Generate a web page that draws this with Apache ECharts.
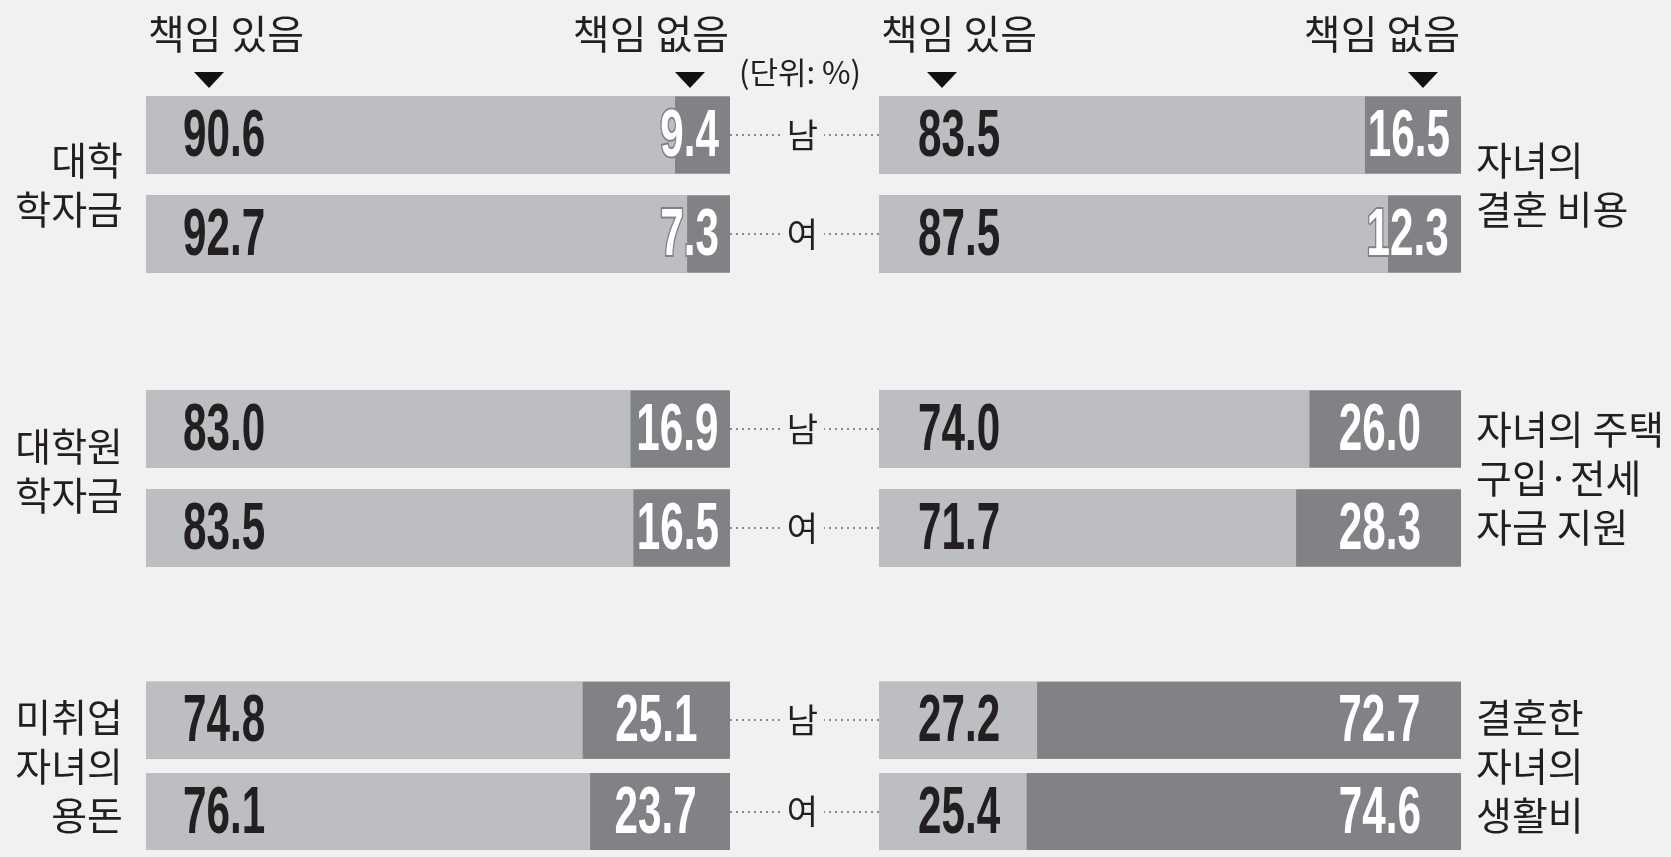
<!DOCTYPE html>
<html><head><meta charset="utf-8">
<script src="https://cdn.jsdelivr.net/npm/echarts@6/dist/echarts.min.js"></script>
<style>html,body{margin:0;padding:0;background:#f1f1f1}#c{width:1671px;height:857px}</style>
</head><body><div id="c"></div>
<script>
// ---- data ----
const genders = ['남', '여'];
const leftGroups = ['대학\n학자금', '대학원\n학자금', '미취업\n자녀의\n용돈'];
const rightGroups = ['자녀의\n결혼 비용', '자녀의 주택\n구입·전세\n자금 지원', '결혼한\n자녀의\n생활비'];
const leftYes = [[90.6, 92.7], [83.0, 83.5], [74.8, 76.1]];
const leftNo = [[9.4, 7.3], [16.9, 16.5], [25.1, 23.7]];
const rightYes = [[83.5, 87.5], [74.0, 71.7], [27.2, 25.4]];
const rightNo = [[16.5, 12.3], [26.0, 28.3], [72.7, 74.6]];
const headerYes = '책임 있음';
const headerNo = '책임 없음';
const unitText = '(단위: %)';

// ---- style / layout ----
const LIGHT = '#bdbec2', DARK = '#818286', TXT = '#231f20', BG = '#f1f1f1';
const KR = '"Noto Sans CJK KR", "Noto Sans", sans-serif';
const NUMFONT = 'bold 66px "Liberation Sans", Arimo, Arial, sans-serif';
const NUM_SX = 0.64, NUM_DY = 3;
const panels = [
  { left: 146, width: 584, groups: leftGroups, yes: leftYes, no: leftNo, inL: 37, inRbig: 32 },
  { left: 879, width: 582, groups: rightGroups, yes: rightYes, no: rightNo, inL: 39, inRbig: 40 }
];
const groupTops = [85.5, 379.5, 674.5];
const GRID_H = 198, BAR_W = 77;
// extra blank line (px) under a group title to nudge it upward
const nameSpacer = [[0, 16, 0], [0, 0, 0]];

const grid = [], xAxis = [], yAxis = [], series = [];
panels.forEach((p, pi) => {
  p.groups.forEach((gname, g) => {
    const i = pi * 3 + g;
    grid.push({ left: p.left, width: p.width, top: groupTops[g], height: GRID_H });
    xAxis.push({ gridIndex: i, type: 'value', min: 0, max: 100, show: false });
    const dotTick = (len) => ({ show: true, alignWithLabel: true, length: len,
      lineStyle: { color: '#8a8a8a', width: 2, type: [2, 4] } });
    const sp = nameSpacer[pi][g];
    const nameText = sp ? gname + '\n{s| }' : gname;
    const nameStyle = (align) => ({ fontSize: 39, lineHeight: 49, color: TXT, fontFamily: KR,
      align: align, rich: { s: { fontSize: 2, lineHeight: sp || 1 } } });
    if (pi === 0) {
      yAxis.push({ gridIndex: i, type: 'category', inverse: true, data: genders, position: 'left',
        axisLine: { show: false }, axisTick: { show: false }, axisLabel: { show: false },
        name: nameText, nameLocation: 'middle', nameRotate: 0, nameGap: 23, nameTextStyle: nameStyle('right') });
      yAxis.push({ gridIndex: i, type: 'category', inverse: true, data: genders, position: 'right',
        axisLine: { show: false }, axisTick: dotTick(50), axisLabel: { show: false } });
    } else {
      yAxis.push({ gridIndex: i, type: 'category', inverse: true, data: genders, position: 'left',
        axisLine: { show: false }, axisTick: dotTick(55),
        axisLabel: { show: true, margin: 61, fontSize: 34, color: TXT, fontFamily: KR } });
      yAxis.push({ gridIndex: i, type: 'category', inverse: true, data: genders, position: 'right',
        axisLine: { show: false }, axisTick: { show: false }, axisLabel: { show: false },
        name: nameText, nameLocation: 'middle', nameRotate: 0, nameGap: 15, nameTextStyle: nameStyle('left') });
    }
    series.push({
      type: 'bar', xAxisIndex: i, yAxisIndex: 2 * i, stack: 's' + i, barWidth: BAR_W,
      data: p.yes[g], itemStyle: { color: LIGHT },
      showBackground: true, backgroundStyle: { color: DARK }
    });
    series.push({
      type: 'bar', xAxisIndex: i, yAxisIndex: 2 * i, stack: 's' + i, barWidth: BAR_W,
      data: p.no[g], itemStyle: { color: DARK }
    });
    // value labels (condensed numerals), positioned via the axes
    series.push({
      type: 'custom', xAxisIndex: i, yAxisIndex: 2 * i, z: 10,
      data: genders.map((gd, k) => [k, p.yes[g][k], p.no[g][k]]),
      encode: { y: 0, x: [1, 2] },
      renderItem: (params, api) => {
        const k = api.value(0), yes = api.value(1), no = api.value(2);
        const start = api.coord([0, k]);
        const end = api.coord([yes + no, k]);
        const inR = no < 20 ? 11 : p.inRbig;
        return { type: 'group', children: [
          { type: 'text', x: start[0] + p.inL, y: start[1] + NUM_DY, scaleX: NUM_SX,
            style: { text: yes.toFixed(1), font: NUMFONT, fill: TXT, align: 'left', verticalAlign: 'middle' } },
          { type: 'text', x: end[0] - inR, y: end[1] + NUM_DY, scaleX: NUM_SX,
            style: { text: no.toFixed(1), font: NUMFONT, fill: '#ffffff', stroke: DARK, lineWidth: 4,
              align: 'right', verticalAlign: 'middle' } }
        ] };
      }
    });
  });
});

// ---- header decorations ----
const graphic = [];
const triY = 72, triH = 16, triHalf = 15;
panels.forEach((p) => {
  const xs = [p.left + 63, p.left + 544];
  xs.forEach(x => graphic.push({ type: 'polygon', shape: { points: [[x - triHalf, triY], [x + triHalf, triY], [x, triY + triH]] },
    style: { fill: '#111' } }));
  graphic.push({ type: 'text', x: p.left + 2, y: 34,
    style: { text: headerYes, fill: TXT, font: '40px ' + KR, align: 'left', verticalAlign: 'middle' } });
  graphic.push({ type: 'text', x: p.left + p.width - 1, y: 34,
    style: { text: headerNo, fill: TXT, font: '40px ' + KR, align: 'right', verticalAlign: 'middle' } });
});
graphic.push({ type: 'text', x: 800, y: 72,
  style: { text: unitText, fill: TXT, font: '31px ' + KR, align: 'center', verticalAlign: 'middle' } });

const chart = echarts.init(document.getElementById('c'), null, { renderer: 'canvas' });
chart.setOption({ backgroundColor: BG, animation: false, grid, xAxis, yAxis, series, graphic });
</script></body></html>
